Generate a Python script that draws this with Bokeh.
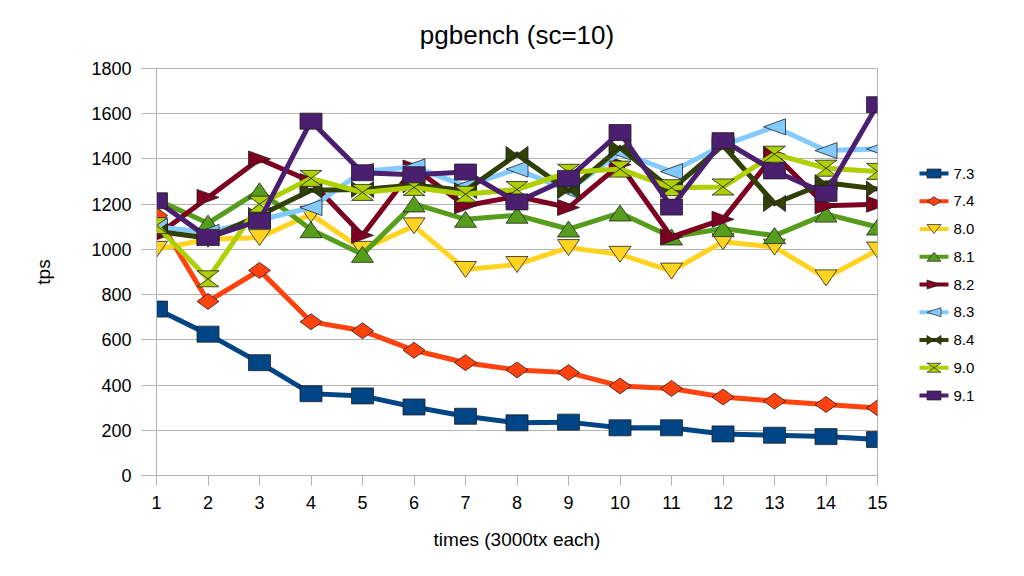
from bokeh.plotting import figure
from bokeh.layouts import row
from bokeh.models import Range1d, FixedTicker
from bokeh.core.properties import value
from bokeh.embed import file_html
from bokeh.resources import INLINE

# ---------------- data ----------------
runs = list(range(1, 16))
series_names = ["7.3", "7.4", "8.0", "8.1", "8.2", "8.3", "8.4", "9.0", "9.1"]
v73 = [736, 625, 499, 362, 352, 303, 262, 233, 236, 211, 211, 184, 178, 172, 159]
v74 = [1150, 770, 907, 680, 640, 554, 499, 467, 455, 396, 385, 347, 329, 314, 299]
v80 = [1000, 1045, 1052, 1155, 1000, 1104, 911, 933, 1008, 978, 904, 1034, 1010, 874, 997]
v81 = [1220, 1116, 1259, 1087, 978, 1201, 1133, 1151, 1090, 1161, 1055, 1092, 1061, 1156, 1099]
v82 = [1060, 1230, 1400, 1300, 1062, 1360, 1193, 1235, 1185, 1375, 1055, 1133, 1420, 1193, 1200]
v83 = [1100, 1075, 1130, 1185, 1345, 1365, 1280, 1355, 1260, 1430, 1344, 1460, 1542, 1437, 1444]
v84 = [1080, 1050, 1150, 1262, 1265, 1285, 1260, 1420, 1259, 1450, 1265, 1460, 1203, 1295, 1267]
v90 = [1105, 870, 1200, 1314, 1252, 1274, 1244, 1265, 1341, 1355, 1273, 1276, 1421, 1359, 1345]
v91 = [1215, 1053, 1127, 1567, 1339, 1330, 1342, 1210, 1314, 1517, 1187, 1481, 1347, 1247, 1640]
y_ticks = [0, 200, 400, 600, 800, 1000, 1200, 1400, 1600, 1800]

series_values = [v73, v74, v80, v81, v82, v83, v84, v90, v91]
colors = ["#004586", "#ff420e", "#ffd320", "#579d1c", "#7e0021",
          "#83caff", "#314004", "#aecf00", "#4b1f6f"]
shapes = ["square", "diamond", "down", "up", "right", "left", "bowtie", "hourglass", "square"]

FONT = "Liberation Sans"
GRID = "#b3b3b3"

# ---------------- layout sizes ----------------
BL, BR, BT, BB = 156, 21, 68, 93
FRAME_W, FRAME_H = 721, 407
MAIN_W = BL + FRAME_W + BR
H = BT + FRAME_H + BB
X0, X1 = 1, 15
Y0, Y1 = 0, 1800
SX = (X1 - X0) / FRAME_W   # data units per pixel
SY = (Y1 - Y0) / FRAME_H


def shape_pts(kind, w, h):
    a, b = w / 2.0, h / 2.0
    if kind == "square":
        return [(-a, -b), (a, -b), (a, b), (-a, b)]
    if kind == "diamond":
        return [(-a, 0), (0, b), (a, 0), (0, -b)]
    if kind == "down":
        return [(-a, b), (a, b), (0, -b)]
    if kind == "up":
        return [(-a, -b), (a, -b), (0, b)]
    if kind == "right":
        return [(-a, b), (a, 0), (-a, -b)]
    if kind == "left":
        return [(a, b), (-a, 0), (a, -b)]
    if kind == "bowtie":
        return [(-a, b), (0, 0), (a, b), (a, -b), (0, 0), (-a, -b)]
    if kind == "hourglass":
        return [(-a, b), (a, b), (0, 0), (a, -b), (-a, -b), (0, 0)]
    return []


def marker_polys(kind, xs, ys, w, h, sx, sy):
    pts = shape_pts(kind, w, h)
    px, py = [], []
    for x, y in zip(xs, ys):
        px.append([x + dx * sx for dx, dy in pts])
        py.append([y + dy * sy for dx, dy in pts])
    return px, py


# ---------------- main figure ----------------
p = figure(width=MAIN_W, height=H, output_backend="svg", toolbar_location=None,
           x_range=Range1d(X0, X1), y_range=Range1d(Y0, Y1),
           min_border_left=BL, min_border_right=BR, min_border_top=BT, min_border_bottom=BB,
           title="pgbench (sc=10)")
p.title.align = "center"
p.title.vertical_align = "top"
p.title.text_font = FONT
p.title.text_font_size = "26px"
p.title.text_font_style = "normal"
p.title.text_color = "#000000"
p.title.standoff = 34

p.outline_line_color = GRID
p.outline_line_width = 1
p.background_fill_color = "white"
p.border_fill_color = "white"

p.xgrid.visible = False
p.ygrid.grid_line_color = GRID
p.ygrid.grid_line_width = 1
p.ygrid.ticker = FixedTicker(ticks=y_ticks)

p.xaxis.ticker = FixedTicker(ticks=runs)
p.yaxis.ticker = FixedTicker(ticks=y_ticks)
for ax in (p.xaxis[0], p.yaxis[0]):
    ax.axis_line_color = GRID
    ax.major_tick_line_color = GRID
    ax.minor_tick_line_color = None
    ax.major_tick_in = 0
    ax.major_label_text_font = FONT
    ax.major_label_text_font_size = "18px"
    ax.major_label_text_color = "#000000"
    ax.axis_label_text_font = FONT
    ax.axis_label_text_font_size = "19px"
    ax.axis_label_text_font_style = "normal"
    ax.axis_label_text_color = "#000000"
p.xaxis.major_tick_out = 10
p.yaxis.major_tick_out = 15
p.xaxis.major_label_standoff = 10
p.yaxis.major_label_standoff = 10
p.xaxis.axis_label = "times (3000tx each)"
p.yaxis.axis_label = "tps"
p.xaxis.axis_label_standoff = 17
p.yaxis.axis_label_standoff = 34

for name, vals, col, shp in zip(series_names, series_values, colors, shapes):
    p.line(runs, vals, line_color=col, line_width=5, line_join="miter")
    mx, my = marker_polys(shp, runs, vals, 22, 16, SX, SY)
    p.patches(mx, my, fill_color=col, line_color="#222222", line_width=0.8)

# ---------------- legend figure (frame aligned with main frame) ----------------
LEG_W = 120
PAGE_X0 = MAIN_W
leg = figure(width=LEG_W, height=H, output_backend="svg", toolbar_location=None,
             x_range=Range1d(PAGE_X0, PAGE_X0 + LEG_W),
             y_range=Range1d(BT + FRAME_H, BT),
             min_border=0, min_border_left=0, min_border_right=0,
             min_border_top=BT, min_border_bottom=BB)
leg.axis.visible = False
leg.grid.visible = False
leg.outline_line_color = None

for i, (name, col, shp) in enumerate(zip(series_names, colors, shapes)):
    yc = 173 + i * 27.75
    leg.line([919, 948], [yc, yc], line_color=col, line_width=4)
    mx, my = marker_polys(shp, [933.5], [yc], 14, 9, 1, -1)
    leg.patches(mx, my, fill_color=col, line_color="#222222", line_width=0.7)
    leg.text(x=[953], y=[yc], text=[name], text_font=value(FONT), text_font_size="15px",
             text_baseline="middle", text_align="left", text_color="#000000")

layout = row(p, leg)
open("out.html", "w").write(file_html(layout, INLINE))
